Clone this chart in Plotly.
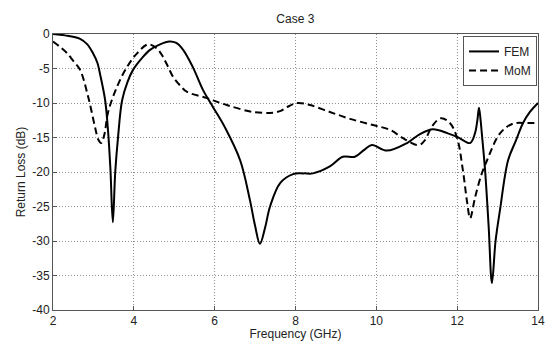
import plotly.graph_objects as go

fem_f = [2.0, 2.3, 2.67, 2.85, 2.99, 3.1, 3.16, 3.29, 3.36, 3.42, 3.48, 3.54, 3.61, 3.71, 3.84, 3.98, 4.2, 4.4, 4.65, 4.88, 5.05, 5.22, 5.46, 5.71, 5.96, 6.26, 6.63, 6.87, 7.0, 7.12, 7.25, 7.37, 7.62, 7.94, 8.2, 8.43, 8.85, 9.17, 9.47, 9.7, 9.89, 10.26, 10.76, 11.08, 11.4, 11.77, 12.0, 12.32, 12.44, 12.5, 12.54, 12.58, 12.61, 12.69, 12.78, 12.86, 12.95, 13.06, 13.26, 13.45, 13.63, 13.8, 14.0]
fem_db = [0.0, -0.2, -0.7, -1.5, -2.8, -4.2, -5.7, -9.6, -13.9, -19.5, -27.3, -20.0, -14.9, -9.6, -7.0, -5.2, -3.5, -2.3, -1.5, -1.1, -1.3, -2.3, -4.8, -8.1, -10.6, -13.6, -18.3, -24.0, -27.8, -30.4, -28.0, -25.0, -21.6, -20.3, -20.2, -20.2, -19.2, -17.8, -17.8, -16.8, -16.1, -16.9, -15.8, -14.5, -13.8, -14.4, -14.9, -15.8, -14.4, -12.5, -10.7, -12.5, -14.4, -19.7, -28.0, -36.1, -30.0, -25.5, -18.3, -15.5, -12.9, -11.3, -10.0]

mom_f = [2.0, 2.2, 2.35, 2.5, 2.67, 2.87, 3.04, 3.12, 3.19, 3.27, 3.36, 3.58, 3.83, 4.08, 4.35, 4.57, 4.72, 4.85, 4.97, 5.15, 5.32, 5.81, 6.3, 6.95, 7.44, 7.65, 7.79, 8.04, 8.36, 8.85, 9.35, 9.92, 10.34, 10.66, 11.0, 11.1, 11.2, 11.4, 11.6, 11.82, 12.0, 12.14, 12.25, 12.32, 12.45, 12.61, 12.74, 13.06, 13.38, 13.73, 14.0]
mom_db = [-1.1, -2.0, -2.8, -3.9, -5.2, -9.1, -13.5, -15.3, -15.8, -14.6, -11.4, -7.7, -4.8, -2.8, -1.5, -2.1, -3.3, -4.8, -6.2, -7.5, -8.4, -9.3, -10.3, -11.3, -11.4, -11.1, -10.6, -10.0, -10.3, -11.3, -12.3, -13.2, -13.9, -15.1, -16.1, -16.0, -15.4, -13.2, -12.2, -12.9, -15.1, -19.7, -24.5, -26.7, -23.5, -20.2, -18.3, -14.4, -13.0, -12.9, -12.9]

x_ticks = [2, 4, 6, 8, 10, 12, 14]
y_ticks = [0, -5, -10, -15, -20, -25, -30, -35, -40]

fig = go.Figure()
fig.add_trace(go.Scatter(x=fem_f, y=fem_db, mode="lines", name="FEM",
                         line=dict(color="black", width=2, shape="spline", smoothing=1.0)))
fig.add_trace(go.Scatter(x=mom_f, y=mom_db, mode="lines", name="MoM",
                         line=dict(color="black", width=2, dash="7px,4px", shape="spline", smoothing=1.0)))

font = dict(family="Liberation Sans, Arial, sans-serif", size=12, color="#222222")
axis_common = dict(showline=True, linecolor="#555555", linewidth=1, mirror=True,
                   ticks="inside", ticklen=4, tickcolor="#555555",
                   showgrid=True, gridcolor="#909090", griddash="1px,2px", gridwidth=1,
                   zeroline=False, tickfont=font, automargin=False)

fig.update_layout(
    width=546, height=341,
    margin=dict(l=53, r=8, t=34, b=31),
    paper_bgcolor="white", plot_bgcolor="white",
    font=font,
    title=dict(text="Case 3", x=0.541, xanchor="center", y=0.945, yanchor="middle",
               font=dict(family="Liberation Sans, Arial, sans-serif", size=12, color="#222222")),
    xaxis=dict(range=[2, 14], tickvals=x_ticks, ticktext=[str(v) for v in x_ticks],
               title=dict(text="Frequency (GHz)", standoff=2, font=font), **axis_common),
    yaxis=dict(range=[-40, 0], tickvals=y_ticks, ticktext=[str(v) for v in y_ticks],
               title=dict(text="Return Loss (dB)", standoff=4, font=font), **axis_common),
    legend=dict(x=0.998, y=0.993, xanchor="right", yanchor="top",
                bordercolor="#555555", borderwidth=1, bgcolor="white",
                font=font, tracegroupgap=0, itemwidth=30),
    showlegend=True,
)

fig.write_html("out.html")
